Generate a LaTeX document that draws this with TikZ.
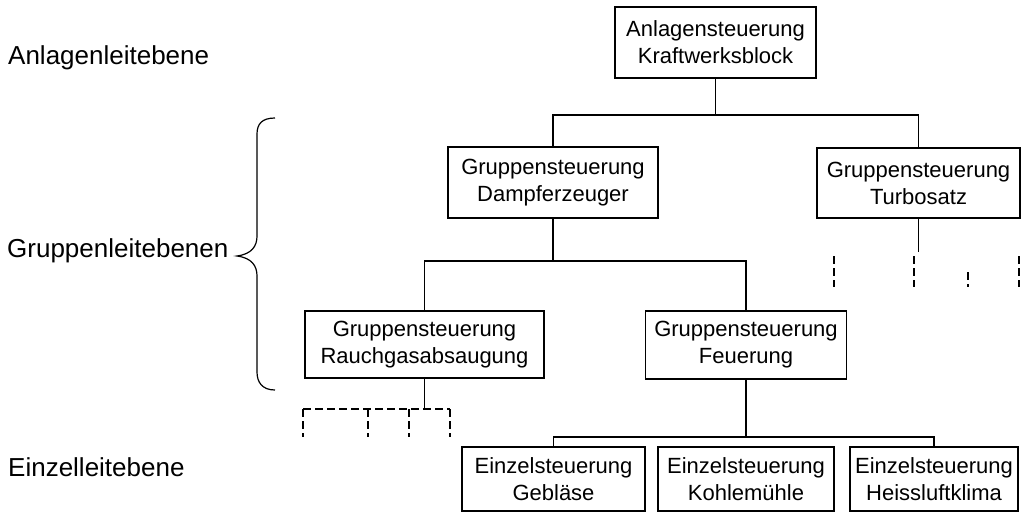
\documentclass[tikz,border=0pt]{standalone}
\usepackage{fontspec}
\setmainfont{Liberation Sans}
\begin{document}
\begin{tikzpicture}[x=1pt,y=-1pt,
  box/.style={draw, line width=1.8pt, inner sep=0pt, align=center,
    font=\fontsize{22}{27}\selectfont},
  wire/.style={line width=1.8pt},
  stub/.style={line width=1.8pt, dash pattern=on 8pt off 4pt},
  level/.style={anchor=base west, inner sep=0pt,
    font=\fontsize{26}{30}\selectfont}]
\useasboundingbox (0,0) rectangle (1022,513);

% control hierarchy boxes
\node[box, minimum width=201pt, minimum height=71pt] (anl) at (715.5,42.5)
  {Anlagensteuerung\\Kraftwerksblock};
\node[box, minimum width=210pt, minimum height=71pt] (dampf) at (553,182.5)
  {Gruppensteuerung\\Dampferzeuger};
\node[box, minimum width=203pt, minimum height=70pt] (turbo) at (918.5,183)
  {Gruppensteuerung\\Turbosatz};
\node[box, minimum width=239pt, minimum height=67pt] (rauch) at (424.5,344.5)
  {Gruppensteuerung\\Rauchgasabsaugung};
\node[box, minimum width=201pt, minimum height=68pt] (feuer) at (746,345)
  {Gruppensteuerung\\Feuerung};
\node[box, minimum width=183pt, minimum height=64pt] (gebl) at (553.5,479)
  {Einzelsteuerung\\Gebläse};
\node[box, minimum width=176pt, minimum height=64pt] (kohle) at (746,479)
  {Einzelsteuerung\\Kohlemühle};
\node[box, minimum width=168pt, minimum height=64pt] (heiss) at (934,479)
  {Einzelsteuerung\\Heissluftklima};

% level labels
\node[level] (lanl) at (8,65) {Anlagenleitebene};
\node[level] (lgrp) at (7,257) {Gruppenleitebenen};
\node[level] (lein) at (8,476) {Einzelleitebene};

% brace grouping the group levels
\draw[line width=1.2pt] (275,118) .. controls (262,118) and (257,124) .. (257,134)
  -- (257,236) .. controls (257,246) and (252,254) .. (237,256)
  .. controls (252,258) and (257,266) .. (257,276)
  -- (257,372) .. controls (257,382) and (262,390) .. (275,390);

% bus lines
\coordinate (bus1) at (0,115);
\coordinate (bus2) at (0,261);
\coordinate (bus3) at (0,437);

\draw[wire] (anl.south) -- (anl.south |- bus1);
\draw[wire] (dampf.north) -- (dampf.north |- bus1) -- (turbo.north |- bus1) -- (turbo.north);

\draw[wire] (dampf.south) -- (dampf.south |- bus2);
\draw[wire] (rauch.north) -- (rauch.north |- bus2) -- (feuer.north |- bus2) -- (feuer.north);

\draw[wire] (feuer.south) -- (feuer.south |- bus3);
\draw[wire] (gebl.north) -- (gebl.north |- bus3) -- (heiss.north |- bus3) -- (heiss.north);

% further branches (indicated)
\coordinate (rbus) at (0,409);
\coordinate (r1) at (303,409);
\coordinate (r2) at (368,409);
\coordinate (r3) at (409,409);
\coordinate (r4) at (450,409);
\draw[wire] (rauch.south) -- (rauch.south |- rbus);
\draw[stub] (r1) -- (r4);
\foreach \p in {r1,r2,r3,r4} \draw[stub] (\p) -- ++(0,28);

\coordinate (t0) at (0,252);
\coordinate (t1) at (834,256);
\coordinate (t2) at (914,256);
\coordinate (t3) at (968,272);
\coordinate (t4) at (1019,256);
\draw[wire] (turbo.south) -- (turbo.south |- t0);
\foreach \p in {t1,t2,t4} \draw[stub] (\p) -- ++(0,31);
\draw[stub] (t3) -- ++(0,15);
\end{tikzpicture}
\end{document}
